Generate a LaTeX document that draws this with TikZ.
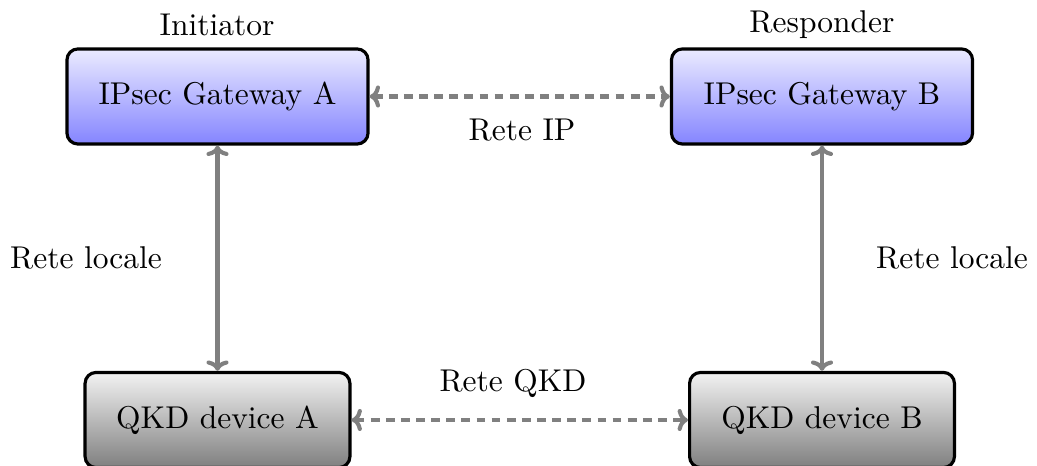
\documentclass[tikz,border=0pt]{standalone}
\usetikzlibrary{arrows.meta}
\tikzset{
  gw/.style={draw=black, line width=1pt, rounded corners=3.5pt, top color=blue!8, bottom color=blue!48,
    minimum width=95.6pt, minimum height=30.2pt, inner sep=0pt},
  qkd/.style={draw=black, line width=1pt, rounded corners=3.5pt, top color=black!5, bottom color=black!50,
    minimum width=84.1pt, minimum height=30.2pt, inner sep=0pt},
  link/.style={draw=black!50, line width=1.3pt, {To[length=3.3pt,width=7pt,round]}-{To[length=3.3pt,width=7pt,round]}},
  dlink/.style={link, dash pattern=on 2.8pt off 2pt},
  lbl/.style={inner sep=0pt}
}
\begin{document}
\begin{tikzpicture}[x=0.3175pt, y=-0.3175pt]
\useasboundingbox (0,0) rectangle (1037,466);
\node[gw] (gA) at (217.5,96.5) {IPsec Gateway A};
\node[gw] (gB) at (822,96.5) {IPsec Gateway B};
\node[qkd] (qA) at (217.5,420) {QKD device A};
\node[qkd] (qB) at (822,420) {QKD device B};
\node[lbl] (ini) at (217,25) {Initiator};
\node[lbl] (res) at (822,25) {Responder};
\node[lbl] (rip) at (522,130) {Rete IP};
\node[lbl] (rqkd) at (513,383) {Rete QKD};
\node[lbl] (rlA) at (86,258) {Rete locale};
\node[lbl] (rlB) at (952,258) {Rete locale};
\draw[link] (gA.south) -- (qA.north);
\draw[link] (gB.south) -- (qB.north);
\draw[dlink] (gA.east) -- (gB.west);
\draw[dlink] (qA.east) -- (qB.west);
\end{tikzpicture}
\end{document}
